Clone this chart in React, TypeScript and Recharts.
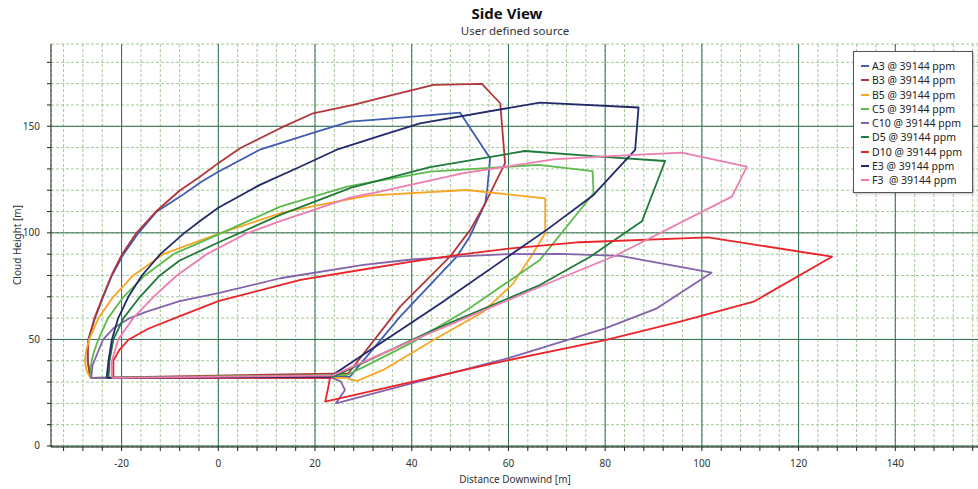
import React from 'react';
import { LineChart, Line, XAxis, YAxis, CartesianGrid, ReferenceLine } from 'recharts';

type Pt = [number, number];

// cloud outlines: [distance downwind, cloud height], each one a closed loop
const A3: Pt[] = [
  [-26.5, 32], [-27, 40], [-27, 45], [-26.9, 50], [-25.5, 60], [-23.8, 70], [-22, 80], [-19.6, 90],
  [-16.5, 100], [-12.7, 110], [-7.9, 117], [-3.5, 124], [0, 128.7], [8.6, 139], [20.4, 147.5],
  [27.2, 152.2], [33.4, 153.2], [50, 156.4], [56.2, 135], [55.6, 120], [55.2, 113.9], [52, 98.2],
  [49.3, 88.8], [37.6, 60.7], [27.2, 32.5], [-26.5, 32],
];
const B3: Pt[] = [
  [-26.5, 32], [-27, 40], [-27, 45], [-26.8, 50], [-25.6, 60], [-23.9, 70], [-22.1, 80], [-19.9, 90],
  [-16.9, 100], [-12.9, 110], [-7.9, 120], [-4, 126], [0, 132.7], [4.5, 139.7], [12.8, 149.1],
  [19.6, 156.1], [27.9, 160], [33.4, 163.2], [44.5, 169.4], [54.5, 169.9], [58.3, 160.8],
  [59.3, 132.7], [55.2, 113.9], [52.1, 101.4], [47.9, 88.8], [37.6, 65.4], [26.9, 34.1], [-26.5, 32],
];
const B5: Pt[] = [
  [-26.5, 32], [-27.3, 36], [-27.6, 40], [-27.3, 45], [-26.7, 50], [-24.8, 60], [-21.7, 70], [-17.6, 80],
  [-11.4, 90], [-2.4, 97.5], [0, 99.5], [12.8, 109.2], [21, 113.1], [31, 117.5], [51.4, 120.1],
  [67.6, 116.2], [67.6, 99.8], [65.1, 90.4], [61, 76.3], [54.8, 63], [44.5, 49.7], [34.1, 35.7],
  [28.8, 30.6], [27.3, 31.2], [26.5, 32], [-26.5, 32],
];
const C5: Pt[] = [
  [-26.2, 32], [-26.4, 36], [-26.2, 40], [-25.6, 45], [-24.8, 50], [-22.8, 60], [-19.6, 70], [-15.2, 80],
  [-9.3, 90], [-1, 98.2], [12.8, 112.3], [26.6, 121.7], [43.8, 128.7], [66.2, 131.9], [77.4, 129],
  [77.6, 118.6], [66.5, 87.3], [51.4, 63.8], [40, 48.5], [30, 37], [26.6, 33.3], [-26.2, 32],
];
const C10: Pt[] = [
  [-26.3, 32], [-26, 38], [-25, 43.5], [-23.8, 50], [-21.7, 55.2], [-18.3, 60], [-14.8, 63],
  [-8, 68], [0, 71.7], [12.8, 78.7], [30, 85], [40, 87.5], [50, 89], [60, 90], [70.6, 90.1],
  [83.1, 89.2], [102, 81.3], [90.7, 64.6], [80, 55.2], [60, 41.2], [40, 29.4], [24.3, 20],
  [26.2, 26.3], [25.3, 30.3], [23.5, 32], [-26.3, 32],
];
const D5: Pt[] = [
  [-22.7, 32], [-22.6, 36], [-22.5, 40], [-21.7, 50], [-19.6, 60], [-16.2, 70], [-12.1, 80],
  [-8, 87], [0, 95.5], [12.8, 108.4], [27.5, 121.2], [43.8, 130.8], [63.4, 138.4], [78.9, 135.8],
  [92.4, 133.7], [87.6, 105.4], [76.9, 88.8], [66.5, 75.5], [44.5, 54.5], [23.8, 32.5], [-22.7, 32],
];
const D10: Pt[] = [
  [-21.7, 32], [-21.7, 40], [-20.5, 45], [-18.5, 50], [-14.5, 55], [-9, 60], [0, 68], [6, 71.5],
  [12.8, 75.5], [17, 77.9], [30, 82.8], [40, 86.5], [50, 89.8], [60, 92.6], [74.8, 95.6],
  [101.3, 97.9], [126.9, 88.8], [110.7, 67.7], [95.5, 58.3], [80, 49.7], [56.9, 38.8],
  [22.1, 20.8], [22.6, 26], [23.1, 32], [-21.7, 32],
];
const E3: Pt[] = [
  [-23.1, 32], [-22.9, 36], [-22.7, 40], [-22, 50], [-20.7, 60], [-18.6, 70], [-15.8, 80],
  [-12, 90], [-7, 100], [-3.5, 106], [0, 111.8], [8.6, 122.5], [16.9, 131], [24.5, 139],
  [33.4, 145.5], [41.7, 151.4], [66.5, 161.1], [86.9, 158.8], [86.2, 138.9], [77.6, 117.8],
  [67.9, 101.4], [46, 67], [23.1, 32.5], [-23.1, 32],
];
const F3: Pt[] = [
  [-22, 32], [-22.1, 36], [-22, 40], [-20.7, 50], [-17.6, 60], [-13.4, 70], [-8.6, 80],
  [-2.4, 90], [5.9, 99.8], [12.8, 105.5], [19.6, 110.7], [27.2, 116.5], [33.4, 119.3],
  [50.7, 128], [69.3, 134.5], [78.9, 135.8], [95.8, 137.6], [109.3, 131.1], [106.2, 117],
  [82.4, 89.6], [66.5, 74.7], [39.6, 49], [23.5, 33], [-22, 32],
];

const SERIES = [
  { name: 'A3 @ 39144 ppm', points: A3, color: '#3f5cb2' },
  { name: 'B3 @ 39144 ppm', points: B3, color: '#b2353a' },
  { name: 'B5 @ 39144 ppm', points: B5, color: '#f6a623' },
  { name: 'C5 @ 39144 ppm', points: C5, color: '#5cbb4c' },
  { name: 'C10 @ 39144 ppm', points: C10, color: '#8463aa' },
  { name: 'D5 @ 39144 ppm', points: D5, color: '#1f7a3a' },
  { name: 'D10 @ 39144 ppm', points: D10, color: '#ea2429' },
  { name: 'E3 @ 39144 ppm', points: E3, color: '#22296a' },
  { name: 'F3  @ 39144 ppm', points: F3, color: '#ee7cb0' },
];

const X_LABELS = [-20, 0, 20, 40, 60, 80, 100, 120, 140];
const Y_LABELS = [0, 50, 100, 150];
const X_TICKS = Array.from({ length: 48 }, (_, i) => -32 + i * 4);
const Y_TICKS = Array.from({ length: 19 }, (_, i) => i * 10);

const X_MIN = -34.6;
const X_MAX = 157.1;
const Y_MIN = -0.47;
const Y_MAX = 188.6;

const FONT = '"Noto Sans", "Open Sans", sans-serif';
const MAJOR = '#2f6f4e';
const MINOR = '#a6c79c';

const XTick = (props: any) => {
  const { x, y, payload } = props;
  if (!X_LABELS.includes(payload.value)) return <g />;
  return (
    <text x={x} y={y} dy="0.71em" textAnchor="middle" fontSize={10} fill="#333" fontFamily={FONT}>
      {payload.value}
    </text>
  );
};

const YTick = (props: any) => {
  const { x, y, payload } = props;
  if (!Y_LABELS.includes(payload.value)) return <g />;
  return (
    <text x={x} y={y} dy="0.35em" textAnchor="end" fontSize={10} fill="#333" fontFamily={FONT}>
      {payload.value}
    </text>
  );
};

export default function App() {
  return (
    <div style={{ position: 'relative', width: 978, height: 489, background: '#fff', fontFamily: FONT }}>
      <style>{'body{margin:0}'}</style>
      <div style={{ position: 'absolute', left: 0, width: 1014, top: 3, textAlign: 'center', fontSize: 15, fontWeight: 700, color: '#111' }}>
        Side View
      </div>
      <div style={{ position: 'absolute', left: 0, width: 1030, top: 23, textAlign: 'center', fontSize: 11.5, color: '#333' }}>
        User defined source
      </div>
      <LineChart width={978} height={489} margin={{ top: 44, right: 0, bottom: 0, left: 0 }}>
        <CartesianGrid stroke={MINOR} strokeDasharray="3 2" />
        {X_LABELS.map((v) => (
          <ReferenceLine key={'x' + v} x={v} stroke={MAJOR} strokeWidth={1} ifOverflow="hidden" />
        ))}
        {Y_LABELS.map((v) => (
          <ReferenceLine key={'y' + v} y={v} stroke={MAJOR} strokeWidth={1} ifOverflow="hidden" />
        ))}
        <XAxis
          type="number"
          dataKey="x"
          domain={[X_MIN, X_MAX]}
          allowDataOverflow
          ticks={X_TICKS}
          interval={0}
          height={42}
          tickSize={4}
          tickMargin={9}
          stroke="#222"
          tick={XTick}
        />
        <XAxis
          xAxisId="top"
          orientation="top"
          type="number"
          domain={[X_MIN, X_MAX]}
          allowDataOverflow
          height={0}
          tick={false}
          tickLine={false}
          stroke="#222"
        />
        <YAxis
          type="number"
          domain={[Y_MIN, Y_MAX]}
          allowDataOverflow
          ticks={Y_TICKS}
          interval={0}
          width={51}
          tickSize={4}
          tickMargin={7}
          stroke="#222"
          tick={YTick}
        />
        {SERIES.map((s) => (
          <Line
            key={s.name}
            name={s.name}
            data={s.points.map(([x, y]) => ({ x, y }))}
            dataKey="y"
            type="linear"
            stroke={s.color}
            strokeWidth={1.8}
            strokeLinejoin="round"
            dot={false}
            activeDot={false}
            isAnimationActive={false}
          />
        ))}
      </LineChart>
      <div style={{ position: 'absolute', left: 0, width: 1030, top: 472, textAlign: 'center', fontSize: 10, color: '#333' }}>
        Distance Downwind [m]
      </div>
      <div
        style={{
          position: 'absolute', left: 17, top: 245, transform: 'translate(-50%, -50%) rotate(-90deg)',
          whiteSpace: 'nowrap', fontSize: 10, color: '#333',
        }}
      >
        Cloud Height [m]
      </div>
      <div
        style={{
          position: 'absolute', left: 853, top: 51, width: 120, height: 142, background: '#fff',
          border: '1px solid #555', boxShadow: '1px 1px 2px rgba(0,0,0,0.25)', boxSizing: 'border-box',
          paddingTop: 7, paddingLeft: 7,
        }}
      >
        {SERIES.map((s) => (
          <div key={s.name} style={{ display: 'flex', alignItems: 'center', height: 14.25, fontSize: 10.5, color: '#222', whiteSpace: 'pre' }}>
            <span style={{ display: 'inline-block', width: 8, height: 2, background: s.color, marginRight: 3 }} />
            {s.name}
          </div>
        ))}
      </div>
    </div>
  );
}
